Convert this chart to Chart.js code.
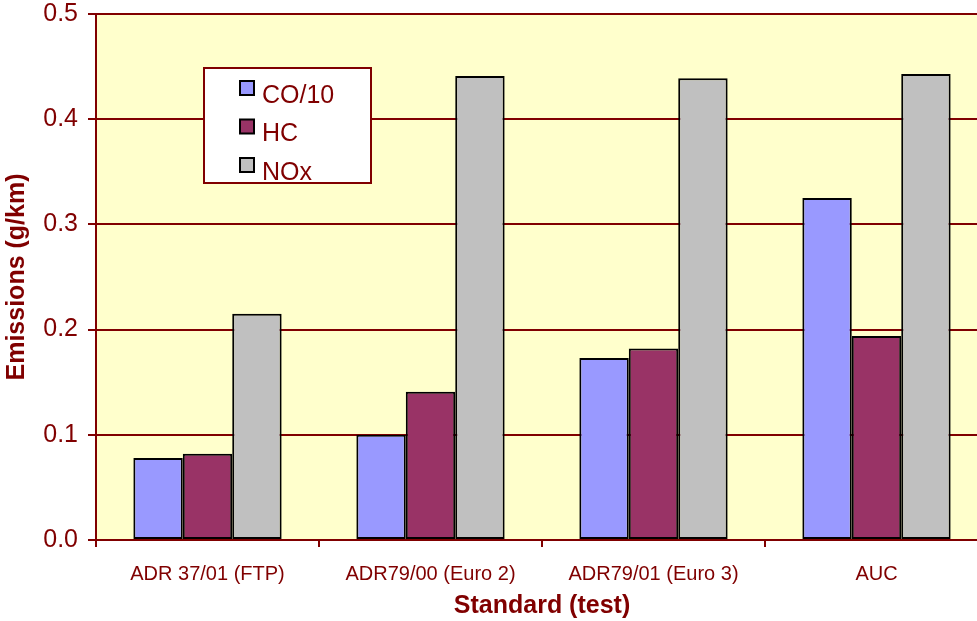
<!DOCTYPE html>
<html>
<head>
<meta charset="utf-8">
<script src="https://cdn.jsdelivr.net/npm/chart.js@4.4.0/dist/chart.umd.min.js"></script>
<style>
  html, body { margin: 0; padding: 0; background: #fff; overflow: hidden; }
  #wrap { width: 977px; height: 621px; overflow: hidden; }
  #box { width: 990px; height: 621px; }
</style>
</head>
<body>
<div id="wrap"><div id="box"><canvas id="emissionsChart"></canvas></div></div>
<script>
const ctx = document.getElementById('emissionsChart').getContext('2d');

// Emissions per standard (g/km)
const standards = ['ADR 37/01 (FTP)', 'ADR79/00 (Euro 2)', 'ADR79/01 (Euro 3)', 'AUC'];
const coOver10 = [0.078, 0.100, 0.173, 0.325];
const hc = [0.082, 0.141, 0.182, 0.194];
const nox = [0.215, 0.441, 0.439, 0.443];
const yTicks = [0.0, 0.1, 0.2, 0.3, 0.4, 0.5];

const darkRed = '#800000';
const font = '"Liberation Sans", Arial, sans-serif';

// yellow plot area with grey top edge
const plotBackground = {
	id: 'plotBackground',
	beforeDraw(chart) {
		const a = chart.chartArea;
		const c = chart.ctx;
		c.save();
		c.fillStyle = '#FFFFCC';
		c.fillRect(a.left, a.top, a.right - a.left, a.bottom - a.top);
		c.strokeStyle = '#808080';
		c.lineWidth = 2;
		c.beginPath();
		c.moveTo(a.left, a.top);
		c.lineTo(a.right, a.top);
		c.stroke();
		c.restore();
	}
};

// boxed legend inside the plot, like the original
const boxLegend = {
	id: 'boxLegend',
	afterDraw(chart) {
		const c = chart.ctx;
		const x = 204, y = 68, w = 167, h = 115;
		c.save();
		c.fillStyle = '#ffffff';
		c.fillRect(x, y, w, h);
		c.strokeStyle = darkRed;
		c.lineWidth = 2;
		c.strokeRect(x, y, w, h);
		c.font = '25px ' + font;
		c.textBaseline = 'middle';
		chart.data.datasets.forEach((ds, i) => {
			const cy = 94 + i * 38.5;
			c.fillStyle = ds.backgroundColor;
			c.fillRect(240, cy - 13, 14, 14);
			c.strokeStyle = '#000';
			c.lineWidth = 2;
			c.strokeRect(240, cy - 13, 14, 14);
			c.fillStyle = darkRed;
			c.fillText(ds.label, 262, cy + 2);
		});
		c.restore();
	}
};

new Chart(ctx, {
	type: 'bar',
	data: {
		labels: standards,
		datasets: [
			{ label: 'CO/10', data: coOver10, backgroundColor: '#9999FF' },
			{ label: 'HC', data: hc, backgroundColor: '#993366' },
			{ label: 'NOx', data: nox, backgroundColor: '#C0C0C0' }
		].map(d => Object.assign(d, {
			borderColor: '#000000',
			borderWidth: 2,
			borderSkipped: false,
			categoryPercentage: 0.665,
			barPercentage: 1.0
		}))
	},
	options: {
		responsive: true,
		maintainAspectRatio: false,
		animation: false,
		layout: { padding: { top: 0, right: 2, bottom: 0, left: 0 } },
		plugins: {
			legend: { display: false },
			tooltip: { enabled: false }
		},
		scales: {
			x: {
				grid: {
					offset: true,
					drawOnChartArea: false,
					color: darkRed,
					lineWidth: 2,
					tickLength: 7
				},
				border: { color: darkRed, width: 2 },
				ticks: {
					color: darkRed,
					font: { family: font, size: 20 },
					padding: 15,
					maxRotation: 0
				},
				title: {
					display: true,
					text: 'Standard (test)',
					color: darkRed,
					font: { family: font, size: 25, weight: 'bold' },
					padding: { top: 0, bottom: 0 }
				},
				afterFit(scale) { scale.height = 81; }
			},
			y: {
				min: 0,
				max: 0.5,
				afterBuildTicks(scale) { scale.ticks = yTicks.map(v => ({ value: v })); },
				grid: {
					color: darkRed,
					lineWidth: 2,
					tickLength: 8
				},
				border: { color: darkRed, width: 2 },
				ticks: {
					color: darkRed,
					font: { family: font, size: 25 },
					padding: 10,
					callback: v => v.toFixed(1)
				},
				title: {
					display: true,
					text: 'Emissions (g/km)',
					color: darkRed,
					font: { family: font, size: 25, weight: 'bold' },
					padding: { top: 2, bottom: 0 }
				},
				afterFit(scale) {
					scale.width = 96;
					scale.paddingTop = 14;
				}
			}
		}
	},
	plugins: [plotBackground, boxLegend]
});
</script>
</body>
</html>
